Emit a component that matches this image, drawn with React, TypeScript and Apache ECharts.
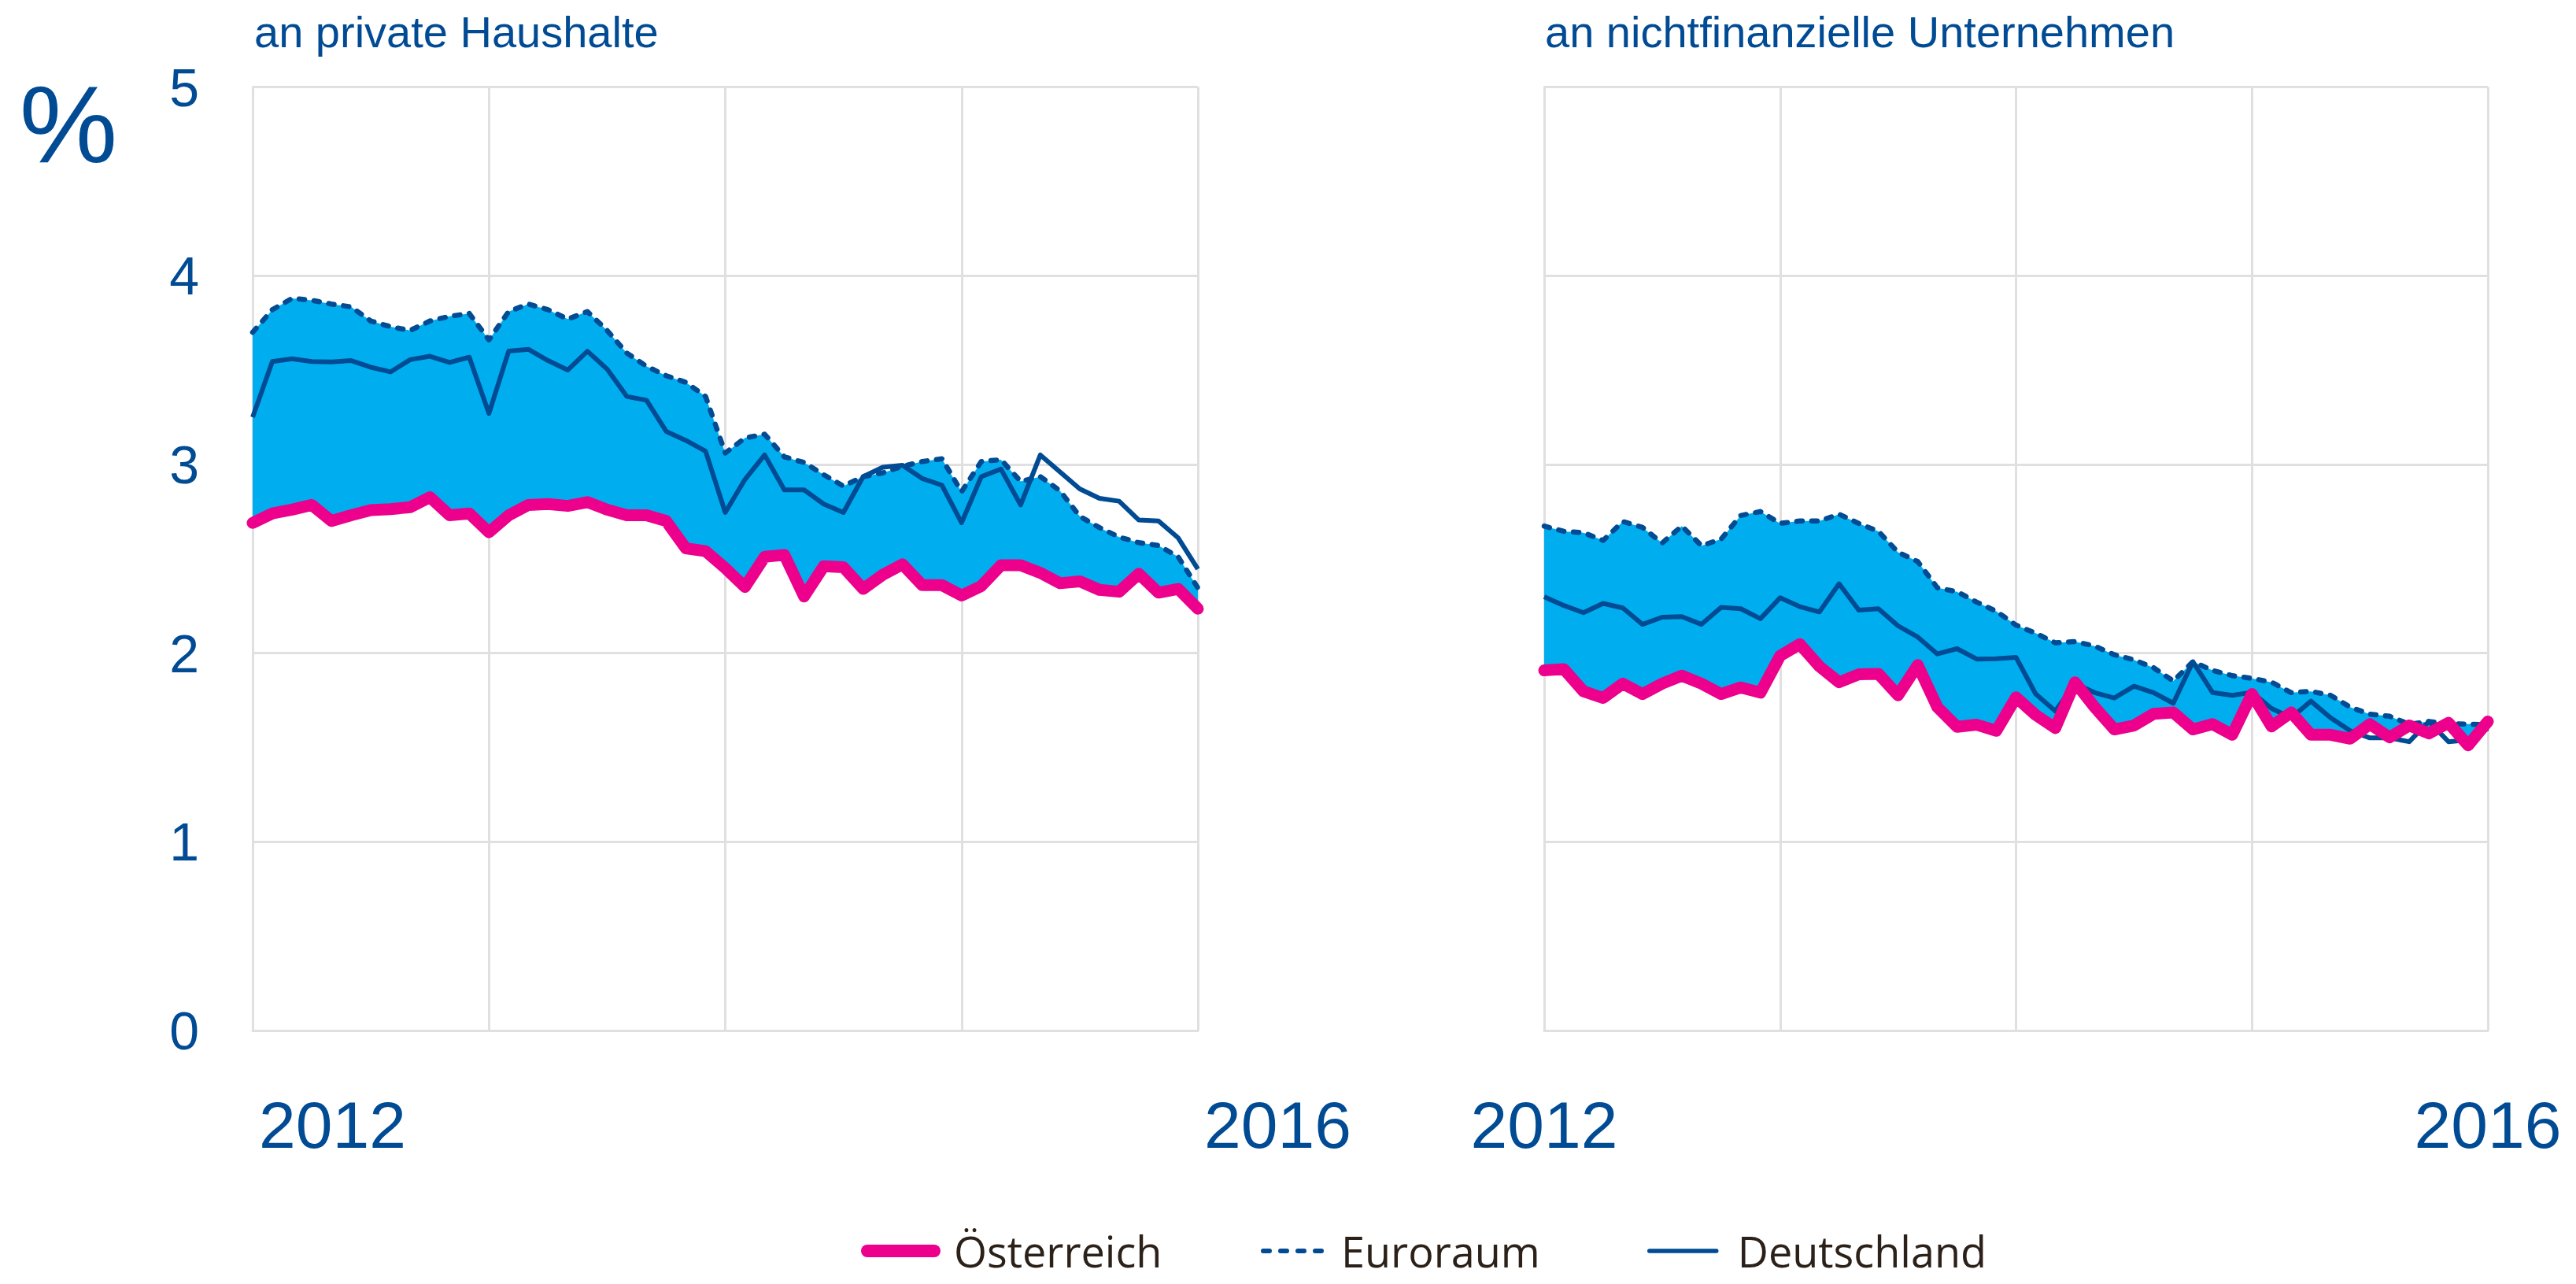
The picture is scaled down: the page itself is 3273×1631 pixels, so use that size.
import React, { useEffect, useRef } from "react";
import * as echarts from "echarts";

// ---------- data ----------
const YEARS = ["2012", "2013", "2014", "2015"];
const MONTHS = ["01", "02", "03", "04", "05", "06", "07", "08", "09", "10", "11", "12"];
const LAST_CATEGORY = "2016-01";
const CATEGORIES: string[] = [];
for (const y of YEARS) for (const m of MONTHS) CATEGORIES.push(`${y}-${m}`);
CATEGORIES.push(LAST_CATEGORY);

const X_TICK_LABELS = ["2012", "2016"];
const PANEL_TITLES = ["an private Haushalte", "an nichtfinanzielle Unternehmen"];
const SERIES_NAMES = ["Österreich", "Euroraum", "Deutschland"];

// Households
const HH_AT = [
  2.69, 2.74, 2.76, 2.785, 2.7, 2.73, 2.757, 2.763, 2.773, 2.826, 2.73, 2.74,
  2.64, 2.73, 2.785, 2.79, 2.78, 2.8, 2.76, 2.73, 2.73, 2.7, 2.555, 2.54,
  2.45, 2.35, 2.51, 2.52, 2.3, 2.46, 2.455, 2.34, 2.415, 2.47, 2.36, 2.36,
  2.305, 2.355, 2.465, 2.465, 2.425, 2.37, 2.38, 2.335, 2.325, 2.42, 2.32, 2.34,
  2.235,
];
const HH_EA = [
  3.7, 3.82, 3.88, 3.87, 3.85, 3.835, 3.76, 3.73, 3.71, 3.76, 3.785, 3.8,
  3.66, 3.81, 3.85, 3.82, 3.77, 3.81, 3.71, 3.59, 3.52, 3.47, 3.435, 3.36,
  3.06, 3.14, 3.16, 3.04, 3.01, 2.945, 2.885, 2.935, 2.955, 2.99, 3.015, 3.03,
  2.855, 3.015, 3.025, 2.91, 2.935, 2.86, 2.725, 2.665, 2.615, 2.585, 2.57, 2.51,
  2.345,
];
const HH_DE = [
  3.25, 3.545, 3.56, 3.545, 3.543, 3.55, 3.515, 3.49, 3.555, 3.573, 3.54, 3.568,
  3.27, 3.6, 3.61, 3.55, 3.5, 3.6, 3.505, 3.36, 3.34, 3.175, 3.127, 3.07,
  2.745, 2.92, 3.05, 2.865, 2.865, 2.79, 2.745, 2.935, 2.985, 2.995, 2.925, 2.89,
  2.69, 2.935, 2.975, 2.785, 3.05, 2.96, 2.87, 2.82, 2.805, 2.705, 2.7, 2.61,
  2.445,
];

// Non-financial corporations
const NFC_AT = [
  1.908, 1.915, 1.797, 1.762, 1.838, 1.783, 1.838, 1.88, 1.838, 1.783, 1.818, 1.79,
  1.985, 2.047, 1.929, 1.845, 1.887, 1.89, 1.776, 1.936, 1.713, 1.609, 1.62, 1.588,
  1.765, 1.672, 1.602, 1.845, 1.713, 1.595, 1.616, 1.678, 1.685, 1.595, 1.623, 1.567,
  1.783, 1.611, 1.685, 1.567, 1.567, 1.546, 1.623, 1.553, 1.616, 1.574, 1.63, 1.511,
  1.637,
];
const NFC_EA = [
  2.673, 2.645, 2.638, 2.597, 2.697, 2.666, 2.583, 2.673, 2.569, 2.604, 2.729, 2.75,
  2.687, 2.7, 2.7, 2.736, 2.687, 2.645, 2.534, 2.485, 2.346, 2.325, 2.27, 2.221,
  2.148, 2.105, 2.054, 2.061, 2.037, 1.991, 1.964, 1.922, 1.852, 1.954, 1.908, 1.88,
  1.866, 1.845, 1.79, 1.797, 1.776, 1.713, 1.676, 1.665, 1.623, 1.637, 1.626, 1.623,
  1.62,
];
const NFC_DE = [
  2.298, 2.252, 2.214, 2.263, 2.239, 2.152, 2.19, 2.193, 2.152, 2.242, 2.235, 2.182,
  2.293, 2.246, 2.218, 2.367, 2.228, 2.235, 2.144, 2.085, 1.995, 2.023, 1.968, 1.97,
  1.977, 1.783, 1.692, 1.838, 1.79, 1.762, 1.824, 1.79, 1.734, 1.954, 1.79, 1.776,
  1.792, 1.706, 1.657, 1.745, 1.657, 1.588, 1.55, 1.55, 1.53, 1.637, 1.53, 1.54,
  1.6,
];

// ---------- styles ----------
const BLUE = "#004B93";
const CYAN = "#00AEEF";
const PINK = "#EC008C";
const GRID_COLOR = "#E0E0E0";
const LEGEND_TEXT = "#2B2119";
const SANS = "'Liberation Sans', Arial, sans-serif";
const LEGEND_FONT = "'Open Sans', 'Noto Sans', sans-serif";

const W = 3273;
const H = 1631;
const GRID_TOP = 110.6;
const GRID_H = 1198.2;
const GRIDS = [
  { left: 321, width: 1201 },
  { left: 1962, width: 1199 },
];

const DASH = [7, 12];

function buildPanelSeries(gi: number, at: number[], ea: number[], de: number[]) {
  const band = ea.map((v, i) => Math.max(0, +(v - at[i]).toFixed(3)));
  return [
    {
      type: "line",
      name: "_base" + gi,
      xAxisIndex: gi,
      yAxisIndex: gi,
      data: at,
      stack: "band" + gi,
      symbol: "none",
      silent: true,
      lineStyle: { width: 0, opacity: 0 },
      z: 1,
    },
    {
      type: "line",
      name: "_band" + gi,
      xAxisIndex: gi,
      yAxisIndex: gi,
      data: band,
      stack: "band" + gi,
      symbol: "none",
      silent: true,
      lineStyle: { width: 0, opacity: 0 },
      areaStyle: { color: CYAN, opacity: 1 },
      z: 1,
    },
    {
      type: "line",
      name: SERIES_NAMES[2],
      xAxisIndex: gi,
      yAxisIndex: gi,
      data: de,
      symbol: "none",
      itemStyle: { color: BLUE },
      lineStyle: { color: BLUE, width: 6, join: "round" },
      z: 3,
    },
    {
      type: "line",
      name: SERIES_NAMES[1],
      xAxisIndex: gi,
      yAxisIndex: gi,
      data: ea,
      symbol: "none",
      itemStyle: { color: BLUE },
      lineStyle: { color: BLUE, width: 6.5, type: DASH, cap: "round", join: "round" },
      z: 3,
    },
    {
      type: "line",
      name: SERIES_NAMES[0],
      xAxisIndex: gi,
      yAxisIndex: gi,
      data: at,
      symbol: "none",
      itemStyle: { color: PINK },
      lineStyle: { color: PINK, width: 15, cap: "round", join: "round" },
      z: 4,
    },
  ];
}

function buildOption() {
  const lastIdx = CATEGORIES.length - 1;
  const xAxes = GRIDS.map((_, gi) => ({
    type: "category",
    gridIndex: gi,
    data: CATEGORIES,
    boundaryGap: false,
    axisLine: { show: true, lineStyle: { color: GRID_COLOR, width: 3 } },
    axisTick: { show: false },
    splitLine: {
      show: true,
      interval: (i: number) => i % 12 === 0,
      lineStyle: { color: GRID_COLOR, width: 3 },
    },
    axisLabel: {
      interval: (i: number) => i === 0 || i === lastIdx,
      formatter: (_v: string, i: number) => (i === 0 ? X_TICK_LABELS[0] : i === lastIdx ? X_TICK_LABELS[1] : ""),
      fontSize: 84,
      fontFamily: SANS,
      color: BLUE,
      margin: 78,
      align: gi === 0 ? "left" : "center",
      padding: gi === 0 ? [0, 0, 0, 8] : 0,
    },
  }));
  const yAxes = GRIDS.map((_, gi) => ({
    type: "value",
    gridIndex: gi,
    min: 0,
    max: 5,
    interval: 1,
    axisLine: { show: true, lineStyle: { color: GRID_COLOR, width: 3 } },
    axisTick: { show: false },
    splitLine: { show: true, lineStyle: { color: GRID_COLOR, width: 3 } },
    axisLabel: {
      show: gi === 0,
      fontSize: 68,
      fontFamily: SANS,
      color: BLUE,
      margin: 68,
    },
  }));

  const legendBase = {
    top: 1562,
    padding: 0,
    itemHeight: 56,
    selectedMode: false,
    orient: "horizontal",
    itemStyle: { opacity: 0, borderWidth: 0 },
  };
  const legendText = (pad: number) => ({
    fontSize: 54,
    lineHeight: 40,
    fontFamily: LEGEND_FONT,
    color: LEGEND_TEXT,
    padding: [0, 0, 0, pad],
  });

  return {
    animation: false,
    backgroundColor: "#ffffff",
    title: PANEL_TITLES.map((t, gi) => ({
      text: t,
      left: gi === 0 ? 323 : 1963,
      top: 12,
      padding: 0,
      textStyle: { fontSize: 56, fontWeight: "normal", color: BLUE, fontFamily: SANS },
    })),
    grid: GRIDS.map((g) => ({ left: g.left, width: g.width, top: GRID_TOP, height: GRID_H, containLabel: false })),
    xAxis: xAxes,
    yAxis: yAxes,
    legend: [
      {
        ...legendBase,
        data: [SERIES_NAMES[0]],
        left: 1094,
        itemWidth: 85,
        lineStyle: { width: 16, cap: "round", color: PINK },
        textStyle: legendText(20),
      },
      {
        ...legendBase,
        data: [SERIES_NAMES[1]],
        left: 1602,
        itemWidth: 74,
        lineStyle: { width: 6, cap: "round", color: BLUE, type: [8, 14] },
        textStyle: legendText(20),
      },
      {
        ...legendBase,
        data: [SERIES_NAMES[2]],
        left: 2093,
        itemWidth: 85,
        lineStyle: { width: 5.5, cap: "round", color: BLUE },
        textStyle: legendText(22),
      },
    ],
    graphic: [
      {
        type: "text",
        x: 87,
        y: 157,
        style: {
          text: "%",
          fontSize: 140,
          fontFamily: SANS,
          fill: BLUE,
          align: "center",
          verticalAlign: "middle",
          textAlign: "center",
          textVerticalAlign: "middle",
        },
      },
    ],
    series: [
      ...buildPanelSeries(0, HH_AT, HH_EA, HH_DE),
      ...buildPanelSeries(1, NFC_AT, NFC_EA, NFC_DE),
    ],
  };
}

export default function App() {
  const ref = useRef<HTMLDivElement>(null);
  useEffect(() => {
    document.body.style.margin = "0";
    if (!ref.current) return;
    const chart = echarts.init(ref.current, undefined, { renderer: "svg", width: W, height: H });
    chart.setOption(buildOption() as any);
    return () => chart.dispose();
  }, []);
  return (
    <div
      ref={ref}
      style={{ position: "absolute", left: 0, top: 0, width: W, height: H, background: "#fff" }}
    />
  );
}
